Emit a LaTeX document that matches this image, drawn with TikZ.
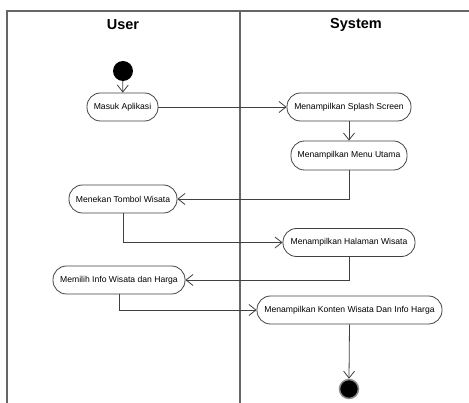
\documentclass[tikz,border=0pt]{standalone}
\usepackage{fontspec}
\setmainfont{Liberation Sans}
\usetikzlibrary{arrows.meta}
\begin{document}
\begin{tikzpicture}[x=1pt,y=-1pt,
  frame/.style={draw=black!60,line width=1.1pt},
  act/.style={draw=black!75,line width=0.8pt,rounded corners=13.5pt,minimum height=28pt,inner sep=0pt,font=\fontsize{8.6}{10}\selectfont},
  flow/.style={draw=black!75,line width=0.8pt,-{Straight Barb[length=7pt,width=11pt,line width=0.8pt]}},
  title/.style={font=\fontsize{14.5}{16}\selectfont\bfseries}]
\useasboundingbox (0,0) rectangle (469,403);
\draw[frame] (7,403) -- (7,11) -- (469,11);
\draw[frame] (240,11) -- (240,403);
\node[title] (tuser) at (123,25) {User};
\node[title] (tsys) at (356,25) {System};
\node[circle,fill=black,minimum size=20pt,inner sep=0pt] (start) at (123,71) {};
\node[act,minimum width=71pt] (masuk) at (122.5,107) {Masuk Aplikasi};
\node[act,minimum width=124pt] (splash) at (349,107) {Menampilkan Splash Screen};
\node[act,minimum width=116pt,minimum height=29pt] (menu) at (349,155.5) {Menampilkan Menu Utama};
\node[act,minimum width=108pt] (menekan) at (123,199) {Menekan Tombol Wisata};
\node[act,minimum width=132pt] (halaman) at (349,242.5) {Menampilkan Halaman Wisata};
\node[act,minimum width=132pt] (memilih) at (119,280) {Memilih Info Wisata dan Harga};
\node[act,minimum width=185pt] (konten) at (349.5,310) {Menampilkan Konten Wisata Dan Info Harga};
\node[circle,fill=black,draw=black!45,line width=1.5pt,minimum size=19pt,inner sep=0pt] (end) at (349,389) {};
\draw[flow] (start) -- (masuk);
\draw[flow] (masuk) -- (splash);
\draw[flow] (splash) -- (menu);
\draw[flow] (menu.south) |- (menekan.east);
\draw[flow] (menekan.south) |- (halaman.west);
\draw[flow] (halaman.south) |- (memilih.east);
\draw[flow] (memilih.south) |- (konten.west);
\draw[flow] (konten.south) -- (end.north);
\end{tikzpicture}
\end{document}
